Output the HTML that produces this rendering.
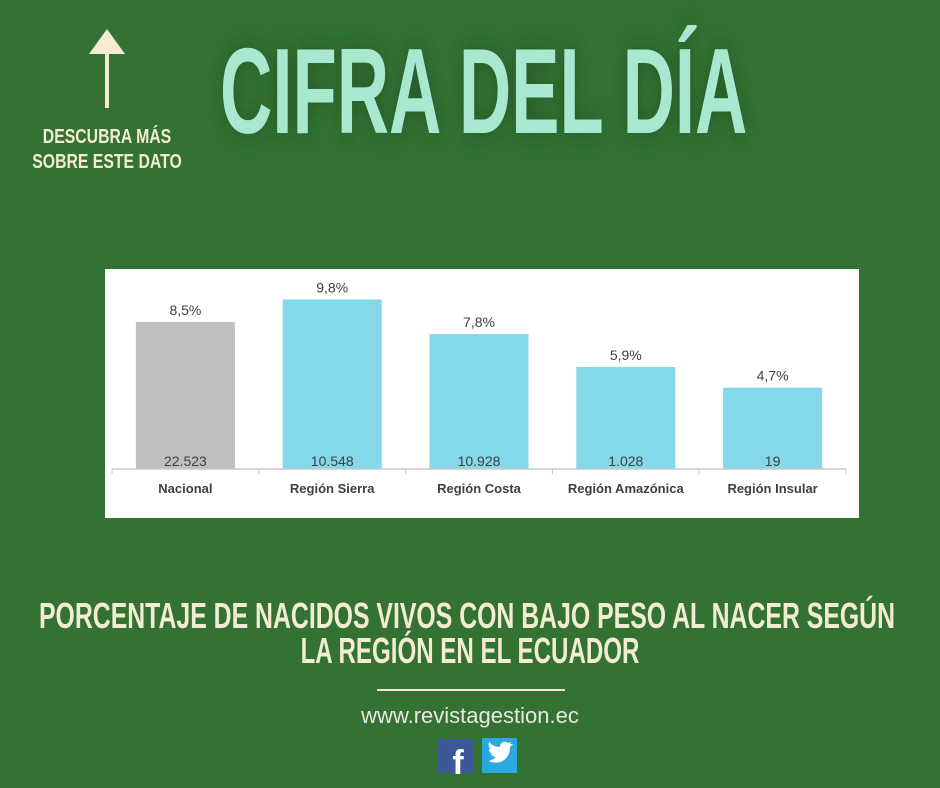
<!DOCTYPE html>
<html><head><meta charset="utf-8"><style>
body{margin:0;width:940px;height:788px;background:#337233;overflow:hidden}
svg{display:block}
</style></head><body>
<svg width="940" height="788" viewBox="0 0 940 788">
<defs><filter id="sh" x="-20%" y="-30%" width="140%" height="160%"><feGaussianBlur stdDeviation="12"/></filter></defs>
<rect width="940" height="788" fill="#337233"/>
<g fill="#f3ecd2">
<polygon points="107,29 89,54 125,54"/><rect x="105" y="52" width="4" height="56"/></g>
<g fill="#f3ecd2" font-family="Liberation Sans, sans-serif" font-weight="bold" font-size="20" text-anchor="middle">
<text x="107" y="143" transform="translate(107 0) scale(0.79 1) translate(-107 0)">DESCUBRA MÁS</text>
<text x="107" y="168" transform="translate(107 0) scale(0.79 1) translate(-107 0)">SOBRE ESTE DATO</text></g>
<g font-family="Liberation Sans, sans-serif" font-weight="bold" font-size="122">
<text x="0" y="133" fill="#1f4a1f" opacity="0.7" filter="url(#sh)" transform="translate(220 0) scale(0.594 1)">CIFRA DEL DÍA</text>
<text x="0" y="133" fill="#a8e8d0" transform="translate(220 0) scale(0.594 1)">CIFRA DEL DÍA</text></g>
<g id="chart"><rect x="105" y="269" width="754" height="249" fill="#fff"/></g>
<g fill="#f3ecd2" font-family="Liberation Sans, sans-serif" font-weight="bold" font-size="36" text-anchor="middle">
<text x="0" y="628" transform="translate(467 0) scale(0.69 1)">PORCENTAJE DE NACIDOS VIVOS CON BAJO PESO AL NACER SEGÚN</text>
<text x="0" y="663" transform="translate(470 0) scale(0.67 1)">LA REGIÓN EN EL ECUADOR</text></g>
<rect x="377" y="689" width="188" height="2" fill="#f3ecd2"/>
<text x="470" y="723" fill="#e8e8e0" font-family="Liberation Sans, sans-serif" font-size="22" text-anchor="middle">www.revistagestion.ec</text>
<g><rect x="438" y="739" width="35" height="34" fill="#3b5998"/><text x="458" y="774" fill="#fff" font-family="Liberation Sans, sans-serif" font-weight="bold" font-size="34" text-anchor="middle">f</text></g>
<g><rect x="482" y="738" width="35" height="35" fill="#2aa9e0"/><path d="M489,761 c6,3 14,2 18,-4 c3,-4 3,-8 3,-10 l3,-3 -3,0 1,-2 -3,1 c-3,-3 -8,-1 -8,4 c-5,0 -8,-2 -11,-5 c-1,3 0,6 2,7 l-2,0 c0,3 2,5 4,5 l-2,0 c1,2 3,3 5,3 c-2,2 -5,3 -7,4z" fill="#fff"/></g>
</svg>
<script>
const categories=["Nacional","Región Sierra","Región Costa","Región Amazónica","Región Insular"];
const percents=[8.5,9.8,7.8,5.9,4.7];
const percentLabels=["8,5%","9,8%","7,8%","5,9%","4,7%"];
const counts=["22.523","10.548","10.928","1.028","19"];
const NS="http://www.w3.org/2000/svg";
const g=document.getElementById('chart');
const x0=112,step=146.8,base=469,k=17.3;
const xs=i=>x0+step*(i+0.5);
const ys=v=>base-v*k;
function mk(t,a){const e=document.createElementNS(NS,t);for(const n in a)e.setAttribute(n,a[n]);g.appendChild(e);return e;}
percents.forEach((v,i)=>{
 const r=mk('rect',{x:xs(i)-49.5,y:ys(v),width:99,height:base-ys(v),fill:i==0?'#bfbfbf':'#83d8ea'});
 
 
 const t=mk('text',{x:xs(i),y:ys(v)-7,'text-anchor':'middle','font-family':'Liberation Sans, sans-serif','font-size':'14',fill:'#404040'});t.textContent=percentLabels[i];
 
 
 const c=mk('text',{x:xs(i),y:base-3,'text-anchor':'middle','font-family':'Liberation Sans, sans-serif','font-size':'14',fill:'#404040'});c.textContent=counts[i];
 
 
 const l=mk('text',{x:xs(i),y:493,'text-anchor':'middle','font-family':'Liberation Sans, sans-serif','font-size':'13','font-weight':'bold',fill:'#404040'});l.textContent=categories[i];
 
 
});
const ax=mk('line',{x1:x0,x2:x0+step*5,y1:base,y2:base,stroke:'#c8c8c8','stroke-width':1.5});


for(let i=0;i<=5;i++){const tk=mk('line',{x1:x0+step*i,x2:x0+step*i,y1:base,y2:base+5,stroke:'#c8c8c8'});
 
 }
</script>
</body></html>
